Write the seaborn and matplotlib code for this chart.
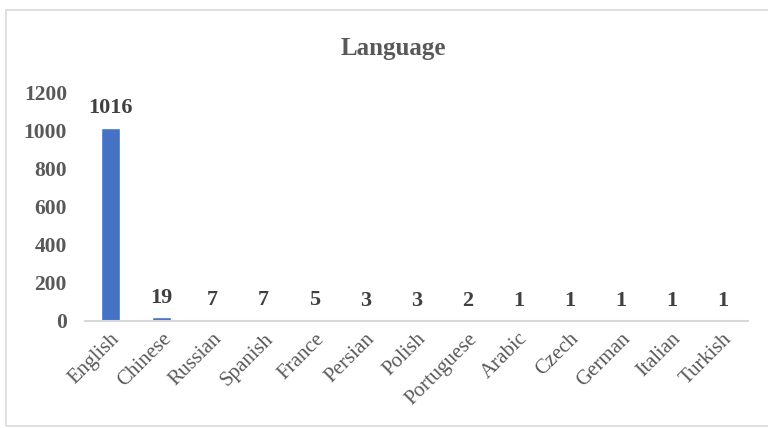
import matplotlib
matplotlib.use("Agg")
import matplotlib.pyplot as plt
from matplotlib.patches import Rectangle
import seaborn as sns
import pandas as pd

languages = ["English", "Chinese", "Russian", "Spanish", "France", "Persian",
             "Polish", "Portuguese", "Arabic", "Czech", "German", "Italian", "Turkish"]
counts = [1016, 19, 7, 7, 5, 3, 3, 2, 1, 1, 1, 1, 1]
y_ticks = [0, 200, 400, 600, 800, 1000, 1200]

df = pd.DataFrame({"language": languages, "count": counts})

sns.set_theme(style="white")
plt.rcParams["font.family"] = ["Liberation Serif", "DejaVu Serif"]

text_color = "#595959"
bar_color = "#4472C4"

fig = plt.figure(figsize=(7.68, 4.28), dpi=100)
fig.patches.append(Rectangle((6 / 768, 0.005), 1.2, 1 - 10 / 428 - 0.005,
                             transform=fig.transFigure, fill=False,
                             edgecolor="#D9D9D9", linewidth=1.2))

ax = fig.add_axes([85 / 768, 1 - 321 / 428, (748 - 85) / 768, (321 - 93) / 428])
sns.barplot(data=df, x="language", y="count", color=bar_color,
            width=0.36, saturation=1, ax=ax)

ax.set_ylim(0, 1200)
ax.set_xlim(-0.5, len(languages) - 0.5)
ax.set_yticks(y_ticks)
ax.set_yticklabels([str(t) for t in y_ticks], fontsize=15.5, fontweight="bold",
                   color=text_color)
ax.set_xticks(range(len(languages)))
ax.set_xticklabels(languages, rotation=45, ha="right", rotation_mode="anchor",
                   fontsize=15, color=text_color)
ax.tick_params(axis="both", length=0)
ax.tick_params(axis="y", pad=13)
ax.tick_params(axis="x", pad=6)
ax.set_xlabel("")
ax.set_ylabel("")

for side in ["top", "right", "left"]:
    ax.spines[side].set_visible(False)
ax.spines["bottom"].set_color("#D9D9D9")
ax.spines["bottom"].set_linewidth(1.5)

for i, v in enumerate(counts):
    ax.annotate(str(v), (i, v), xytext=(0, 7), textcoords="offset points",
                ha="center", va="bottom", fontsize=16, fontweight="bold",
                color="#404040")

fig.text(0.512, 1 - 48 / 428, "Language", ha="center", va="center",
         fontsize=18, fontweight="bold", color=text_color)

fig.savefig("out.png", dpi=100)
